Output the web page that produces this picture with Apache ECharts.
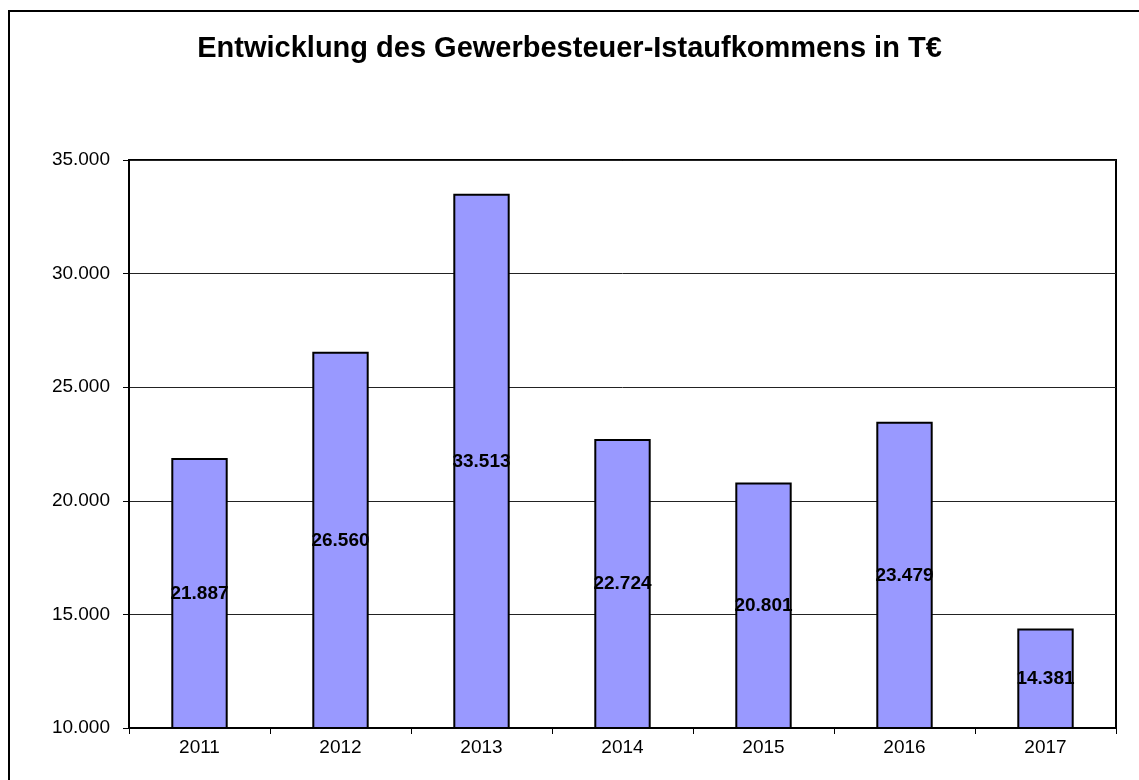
<!DOCTYPE html>
<html>
<head>
<meta charset="utf-8">
<script src="https://cdn.jsdelivr.net/npm/echarts@6/dist/echarts.min.js"></script>
<style>
  html, body { margin: 0; padding: 0; background: #fff; }
  #main { width: 1139px; height: 780px; }
</style>
</head>
<body>
<div id="main"></div>
<script>
// Jahre und Gewerbesteuer-Istaufkommen in T€
const years = ['2011', '2012', '2013', '2014', '2015', '2016', '2017'];
const values = [21887, 26560, 33513, 22724, 20801, 23479, 14381];

// deutsche Tausenderpunkte
function fmt(v) {
  return String(Math.round(v)).replace(/\B(?=(\d{3})+(?!\d))/g, '.');
}

const chart = echarts.init(document.getElementById('main'));
const font = '"Liberation Sans", Arial, sans-serif';

const option = {
  animation: false,
  backgroundColor: '#fff',
  title: {
    text: 'Entwicklung des Gewerbesteuer-Istaufkommens in T€',
    left: 'center',
    top: 29,
    textStyle: { fontFamily: font, fontSize: 29, fontWeight: 'bold', color: '#000' }
  },
  graphic: [{
    // Rahmen um das Diagramm (rechts/unten abgeschnitten)
    type: 'rect',
    shape: { x: 9, y: 11, width: 1300, height: 900 },
    style: { fill: 'none', stroke: '#000', lineWidth: 2 },
    silent: true
  }],
  grid: {
    left: 129, right: 23, top: 160, bottom: 52,
    show: true, borderColor: '#000', borderWidth: 2, backgroundColor: '#fff'
  },
  xAxis: {
    type: 'category',
    data: years,
    axisLine: { lineStyle: { color: '#000', width: 2 } },
    axisTick: { show: true, length: 6, lineStyle: { color: '#000', width: 1 } },
    axisLabel: { fontFamily: font, fontSize: 19, color: '#000', margin: 10 }
  },
  yAxis: {
    type: 'value',
    min: 10000, max: 35000, interval: 5000,
    axisLine: { show: true, lineStyle: { color: '#000', width: 2 } },
    axisTick: { show: true, length: 6, lineStyle: { color: '#000', width: 1 } },
    splitLine: { lineStyle: { color: '#222', width: 1 } },
    axisLabel: { fontFamily: font, fontSize: 19, color: '#000', margin: 19, formatter: fmt }
  },
  series: [{
    type: 'bar',
    data: values,
    barWidth: '40%',
    itemStyle: { color: '#9999FF', borderColor: '#000', borderWidth: 2 },
    label: {
      show: true,
      position: 'inside',
      fontFamily: font, fontSize: 19, fontWeight: 'bold', color: '#000',
      formatter: p => fmt(p.value)
    }
  }]
};

chart.setOption(option);
</script>
</body>
</html>
